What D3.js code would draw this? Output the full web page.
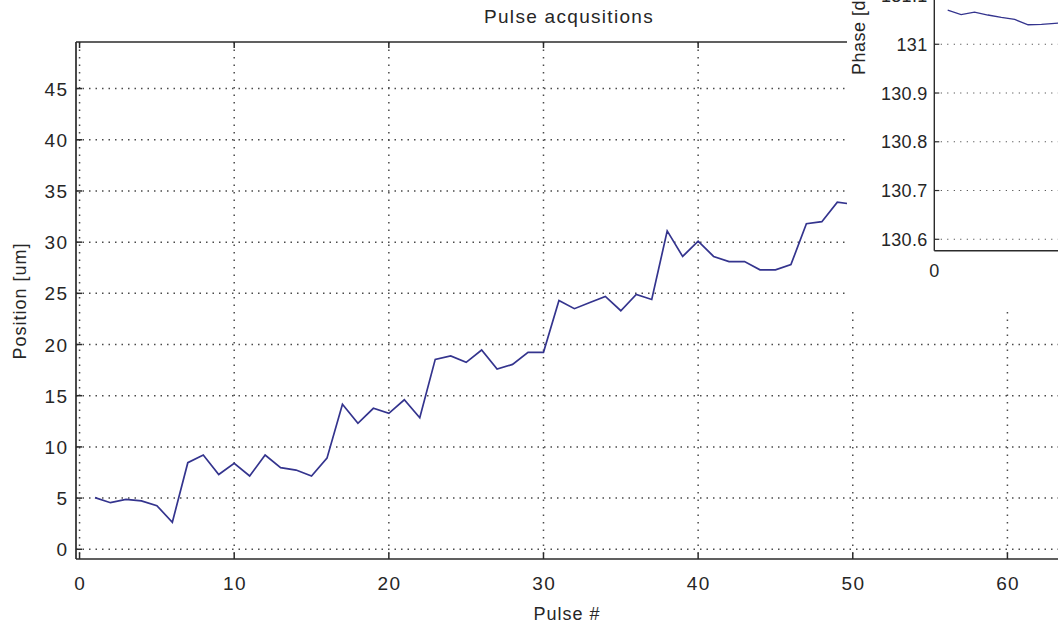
<!DOCTYPE html>
<html>
<head>
<meta charset="utf-8">
<script src="https://cdn.jsdelivr.net/npm/d3@7"></script>
<style>
  html, body { margin: 0; padding: 0; background: #fff; }
  svg { display: block; font-family: 'Liberation Sans', Arial, sans-serif; }
  .lbl { fill: #262626; }
</style>
</head>
<body>
<div id="chart"></div>
<script>
// main plot: position per pulse
const pulses = d3.range(1, 51);
const position = [
  5.04, 4.55, 4.88, 4.72, 4.26, 2.64, 8.46, 9.2, 7.3, 8.4,
  7.16, 9.2, 7.97, 7.74, 7.16, 8.9, 14.16, 12.3, 13.77, 13.28,
  14.6, 12.85, 18.55, 18.88, 18.26, 19.46, 17.6, 18.06, 19.24, 19.24,
  24.3, 23.5, 24.1, 24.7, 23.3, 24.9, 24.4, 31.1, 28.6, 30.1,
  28.6, 28.1, 28.1, 27.3, 27.3, 27.8, 31.8, 32.0, 33.9, 33.7
];
const xTicks = [0, 10, 20, 30, 40, 50, 60];
const yTicks = [0, 5, 10, 15, 20, 25, 30, 35, 40, 45];

// inset: phase per pulse (only the visible corner)
const insetPulses = d3.range(1, 11);
const phase = [131.070, 131.061, 131.066, 131.060, 131.055, 131.051, 131.040, 131.041, 131.043, 131.044];
const insetYTicks = [130.6, 130.7, 130.8, 130.9, 131, 131.1];
const insetXTicks = [0];

const W = 1058, H = 623;
const svg = d3.select('#chart').append('svg')
  .attr('width', W)
  .attr('height', H);

const axisColor = '#2b2b2b';
const gridColor = '#4a4a4a';
const lineColor = '#34348e';

// ---- main axes ----
const m = { left: 76, right: 1060, top: 42, bottom: 559 };
const x = d3.scaleLinear().domain([-0.23, 63.4]).range([m.left, m.right]);
const y = d3.scaleLinear().domain([-0.95, 49.55]).range([m.bottom, m.top]);

const main = svg.append('g');

// grid
main.append('g').selectAll('line.hgrid').data(yTicks).enter()
  .append('line')
  .attr('x1', m.left).attr('x2', m.right)
  .attr('y1', d => y(d)).attr('y2', d => y(d))
  .style('stroke', gridColor)
  .style('stroke-width', 1.5)
  .style('stroke-dasharray', '1.5,5')
  .attr('class', 'gridline');

main.append('g').selectAll('line.vgrid').data(xTicks).enter()
  .append('line')
  .attr('x1', d => x(d)).attr('x2', d => x(d))
  .attr('y1', m.top).attr('y2', m.bottom)
  .style('stroke', gridColor)
  .style('stroke-width', 1.5)
  .style('stroke-dasharray', '1.5,6')
  .attr('class', 'gridline');

// data line
main.append('path')
  .datum(pulses.map((p, i) => [p, position[i]]))
  .attr('d', d3.line().x(d => x(d[0])).y(d => y(d[1])))
  .style('fill', 'none')
  .style('stroke', lineColor)
  .style('stroke-width', 1.7);

// box
main.append('line')
  .attr('x1', m.left).attr('x2', m.right).attr('y1', m.bottom).attr('y2', m.bottom)
  .style('stroke', axisColor).style('stroke-width', 1.7);
main.append('line')
  .attr('x1', m.left).attr('x2', m.right).attr('y1', m.top).attr('y2', m.top)
  .style('stroke', axisColor).style('stroke-width', 1.7);
main.append('line')
  .attr('x1', m.left).attr('x2', m.left).attr('y1', m.top).attr('y2', m.bottom)
  .style('stroke', axisColor).style('stroke-width', 1.7);

// inward ticks
const tickLen = 6;
main.append('g').selectAll('line').data(xTicks).enter()
  .append('line')
  .attr('x1', d => x(d)).attr('x2', d => x(d))
  .attr('y1', m.bottom).attr('y2', m.bottom - tickLen)
  .style('stroke', axisColor).style('stroke-width', 1.5);
main.append('g').selectAll('line').data(xTicks).enter()
  .append('line')
  .attr('x1', d => x(d)).attr('x2', d => x(d))
  .attr('y1', m.top).attr('y2', m.top + tickLen)
  .style('stroke', axisColor).style('stroke-width', 1.5);
main.append('g').selectAll('line').data(yTicks).enter()
  .append('line')
  .attr('x1', m.left).attr('x2', m.left + tickLen)
  .attr('y1', d => y(d)).attr('y2', d => y(d))
  .style('stroke', axisColor).style('stroke-width', 1.5);

// tick labels
main.append('g').selectAll('text').data(xTicks).enter()
  .append('text')
  .attr('class', 'lbl')
  .attr('x', d => x(d) + 0.7)
  .attr('y', 590)
  .attr('text-anchor', 'middle')
  .style('font-size', '19px')
  .style('letter-spacing', '1.4px')
  .text(d => d);
main.append('g').selectAll('text').data(yTicks).enter()
  .append('text')
  .attr('class', 'lbl')
  .attr('x', 68.5)
  .attr('y', d => y(d) + 7)
  .attr('text-anchor', 'end')
  .style('font-size', '19px')
  .style('letter-spacing', '1.4px')
  .text(d => d);

// titles
svg.append('text').attr('class', 'lbl')
  .attr('x', 569).attr('y', 23)
  .attr('text-anchor', 'middle')
  .style('font-size', '19px')
  .style('letter-spacing', '1.3px')
  .text('Pulse acqusitions');
svg.append('text').attr('class', 'lbl')
  .attr('x', 567).attr('y', 620)
  .attr('text-anchor', 'middle')
  .style('font-size', '18px')
  .style('letter-spacing', '1px')
  .text('Pulse #');
svg.append('text').attr('class', 'lbl')
  .attr('transform', 'translate(26,301) rotate(-90)')
  .attr('text-anchor', 'middle')
  .style('font-size', '18px')
  .style('letter-spacing', '1px')
  .text('Position [um]');

// ---- inset ----
const ins = { left: 934.3, right: 1200, top: -200, bottom: 250.7 };
const xi = d3.scaleLinear().domain([0, 19.83]).range([ins.left, ins.right]);
const yi = d3.scaleLinear().domain([130.5766, 131.501]).range([ins.bottom, ins.top]);

const inset = svg.append('g');
inset.append('rect')
  .attr('x', 847).attr('y', 0)
  .attr('width', W - 847).attr('height', 312)
  .style('fill', '#fff');

inset.append('g').selectAll('line').data(insetYTicks).enter()
  .append('line')
  .attr('x1', ins.left).attr('x2', ins.right)
  .attr('y1', d => yi(d)).attr('y2', d => yi(d))
  .style('stroke', '#333')
  .style('stroke-width', 1.1)
  .style('stroke-dasharray', '1,5.5');

inset.append('path')
  .datum(insetPulses.map((p, i) => [p, phase[i]]))
  .attr('d', d3.line().x(d => xi(d[0])).y(d => yi(d[1])))
  .style('fill', 'none')
  .style('stroke', lineColor)
  .style('stroke-width', 1.3);

inset.append('line')
  .attr('x1', ins.left).attr('x2', ins.left).attr('y1', ins.top).attr('y2', ins.bottom)
  .style('stroke', axisColor).style('stroke-width', 1.4);
inset.append('line')
  .attr('x1', ins.left).attr('x2', ins.right).attr('y1', ins.bottom).attr('y2', ins.bottom)
  .style('stroke', axisColor).style('stroke-width', 1.4);
inset.append('g').selectAll('line').data(insetYTicks).enter()
  .append('line')
  .attr('x1', ins.left).attr('x2', ins.left + 5)
  .attr('y1', d => yi(d)).attr('y2', d => yi(d))
  .style('stroke', axisColor).style('stroke-width', 1.2);

inset.append('g').selectAll('text').data(insetYTicks).enter()
  .append('text')
  .attr('class', 'lbl')
  .attr('x', 927.5)
  .attr('y', d => yi(d) + 6.5)
  .attr('text-anchor', 'end')
  .style('font-size', '18px')
  .style('letter-spacing', '0.3px')
  .text(d => d);
inset.append('g').selectAll('text').data(insetXTicks).enter()
  .append('text')
  .attr('class', 'lbl')
  .attr('x', d => xi(d))
  .attr('y', 277)
  .attr('text-anchor', 'middle')
  .style('font-size', '18px')
  .text(d => d);
inset.append('text').attr('class', 'lbl')
  .attr('transform', 'translate(865,75) rotate(-90)')
  .attr('text-anchor', 'start')
  .style('font-size', '18px')
  .style('letter-spacing', '0.5px')
  .text('Phase [deg]');
</script>
</body>
</html>
